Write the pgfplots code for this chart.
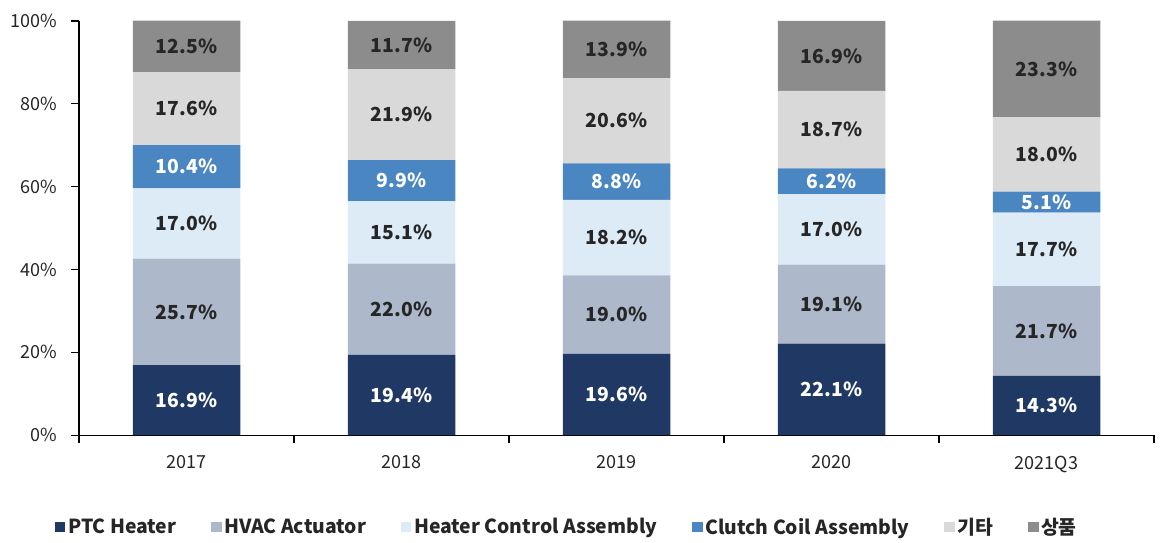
\documentclass[border=0pt]{standalone}
\usepackage{pgfplots}
\pgfplotsset{compat=1.18}
\usepackage{fontspec}
\setmainfont{Noto Sans CJK KR}
\definecolor{ptc}{HTML}{203864}
\definecolor{hvac}{HTML}{ADB8CB}
\definecolor{hca}{HTML}{DDEBF7}
\definecolor{clutch}{HTML}{4A86C1}
\definecolor{etc}{HTML}{D9D9D9}
\definecolor{goods}{HTML}{8C8C8C}
\definecolor{lbl}{HTML}{262626}
\begin{document}
\begin{tikzpicture}
\begin{axis}[
  scale only axis, width=806pt, height=310.5pt,
  clip=false,
  ybar stacked, bar width=0.5,
  xmin=-0.5, xmax=4.5, ymin=0, ymax=100,
  axis lines=left, axis line style={-, black, line width=0.8pt},
  xtick={0,1,2,3,4}, xticklabels={2017,2018,2019,2020,2021Q3},
  minor xtick={-0.5,0.5,1.5,2.5,3.5,4.5},
  major x tick style={draw=none},
  minor x tick style={black, line width=0.8pt},
  minor tick length=6pt,
  major y tick style={black, line width=0.8pt},
  major tick length=6pt,
  tick align=outside,
  ytick={0,20,40,60,80,100},
  yticklabel={\pgfmathprintnumber[assume math mode=true]{\tick}\%},
  tick label style={font=\fontsize{13.5}{15}\selectfont, text=lbl},
  xticklabel style={yshift=-6pt},
  yticklabel style={xshift=-7pt},
  point meta=rawy,
  nodes near coords={\pgfmathprintnumber[fixed,fixed zerofill,precision=1,assume math mode=true]{\pgfplotspointmeta}\%},
  every node near coord/.append style={anchor=center, font=\fontsize{14.5}{16}\selectfont\bfseries, text=lbl},
  legend style={at={(0.454,-0.222)}, anchor=center, draw=none, legend columns=6,
     font=\fontsize{14.5}{16}\selectfont\bfseries, text=lbl,
     /tikz/every even column/.append style={column sep=24pt}},
  legend image code/.code={\fill[#1, draw=none] (0pt,-4pt) rectangle (8pt,4pt);},
]
\addplot[fill=ptc, draw=none, every node near coord/.append style={text=white}] coordinates {(0,16.9) (1,19.4) (2,19.6) (3,22.1) (4,14.3)};
\addplot[fill=hvac, draw=none] coordinates {(0,25.7) (1,22.0) (2,19.0) (3,19.1) (4,21.7)};
\addplot[fill=hca, draw=none] coordinates {(0,17.0) (1,15.1) (2,18.2) (3,17.0) (4,17.7)};
\addplot[fill=clutch, draw=none, every node near coord/.append style={text=white}] coordinates {(0,10.4) (1,9.9) (2,8.8) (3,6.2) (4,5.1)};
\addplot[fill=etc, draw=none] coordinates {(0,17.6) (1,21.9) (2,20.6) (3,18.7) (4,18.0)};
\addplot[fill=goods, draw=none] coordinates {(0,12.5) (1,11.7) (2,13.9) (3,16.9) (4,23.3)};
\legend{PTC Heater, HVAC Actuator, Heater Control Assembly, Clutch Coil Assembly, 기타, 상품}
\path (rel axis cs:-0.0735,-0.2585) rectangle (rel axis cs:1.0065,1.0507);
\end{axis}
\end{tikzpicture}
\end{document}
